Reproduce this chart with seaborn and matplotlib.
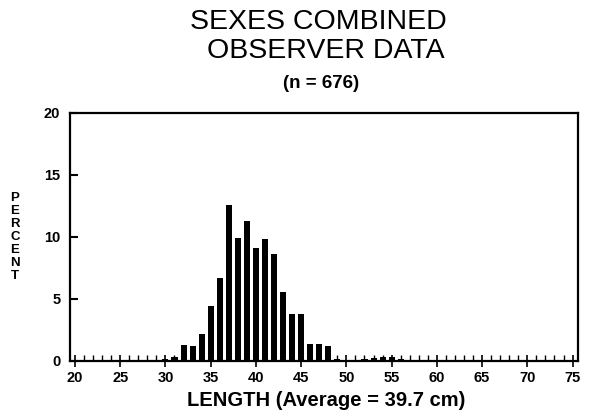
import matplotlib
matplotlib.use("Agg")
import matplotlib.pyplot as plt
import seaborn as sns
import pandas as pd

# ---- data ----
lengths = list(range(20, 76))
percent = [
    0.0, 0.0, 0.0, 0.0, 0.0, 0.0, 0.0, 0.0, 0.0, 0.0,   # 20-29
    0.15, 0.3, 1.3, 1.2, 2.2, 4.4, 6.7, 12.6, 9.9, 11.3,  # 30-39
    9.1, 9.8, 8.6, 5.6, 3.8, 3.8, 1.4, 1.4, 1.2, 0.15,   # 40-49
    0.0, 0.0, 0.2, 0.25, 0.3, 0.3, 0.15, 0.0, 0.0, 0.0,  # 50-59
    0.0, 0.0, 0.0, 0.0, 0.0, 0.0, 0.0, 0.0, 0.0, 0.0,    # 60-69
    0.0, 0.0, 0.0, 0.0, 0.0, 0.0,                        # 70-75
]
x_ticks = [20, 25, 30, 35, 40, 45, 50, 55, 60, 65, 70, 75]
y_ticks = [0, 5, 10, 15, 20]
title_lines = ["SEXES COMBINED", "OBSERVER DATA"]
subtitle = "(n = 676)"
x_label = "LENGTH (Average = 39.7 cm)"
y_label = "PERCENT"

df = pd.DataFrame({"length": lengths, "percent": percent})

sns.set_style("white")
plt.rcParams["font.family"] = ["Liberation Sans", "DejaVu Sans"]
plt.rcParams["text.color"] = "black"
plt.rcParams["xtick.color"] = "black"
plt.rcParams["ytick.color"] = "black"

fig = plt.figure(figsize=(5.9, 4.16), dpi=100)
ax = fig.add_axes([70 / 590, 1 - 361 / 416, (578 - 70) / 590, (361 - 113) / 416])

sns.barplot(data=df, x="length", y="percent", native_scale=True, color="black",
            saturation=1, width=0.67, errorbar=None, ax=ax, linewidth=0)

ax.set_xlim(19.45, 75.6)
ax.set_ylim(0, 20)
ax.set_xticks(x_ticks)
ax.set_xticklabels([str(v) for v in x_ticks], fontsize=10.5, fontweight="bold")
ax.set_xticks(lengths, minor=True)
ax.set_yticks(y_ticks)
ax.set_yticklabels([str(v) for v in y_ticks], fontsize=10.5, fontweight="bold")
ax.tick_params(axis="x", which="major", direction="inout", length=8, width=1.2,
               color="black", labelcolor="black", pad=3, bottom=True)
ax.tick_params(axis="x", which="minor", direction="in", length=4, width=1.0,
               color="black", bottom=True)
ax.tick_params(axis="y", which="major", direction="in", length=6, width=1.5,
               color="black", labelcolor="black", pad=7, left=True)
for s in ax.spines.values():
    s.set_color("black")
    s.set_linewidth(1.6)
    s.set_visible(True)

ax.set_xlabel("")
ax.set_ylabel("")
fig.text(326 / 590, 1 - 401 / 416, x_label, ha="center", va="center",
         fontsize=14.5, fontweight="bold", color="black")
fig.text(15 / 590, 1 - 237 / 416, "\n".join(y_label), ha="center", va="center",
         fontsize=9.5, fontweight="bold", linespacing=1.1, color="black")

fig.text(318 / 590, 1 - 22 / 416, title_lines[0], ha="center", va="center",
         fontsize=20.5, fontweight="normal", color="black")
fig.text(326 / 590, 1 - 51 / 416, title_lines[1], ha="center", va="center",
         fontsize=20.5, fontweight="normal", color="black")
fig.text(321 / 590, 1 - 83 / 416, subtitle, ha="center", va="center",
         fontsize=13.5, fontweight="bold", color="black")

fig.savefig("out.png", dpi=100, facecolor="white")
